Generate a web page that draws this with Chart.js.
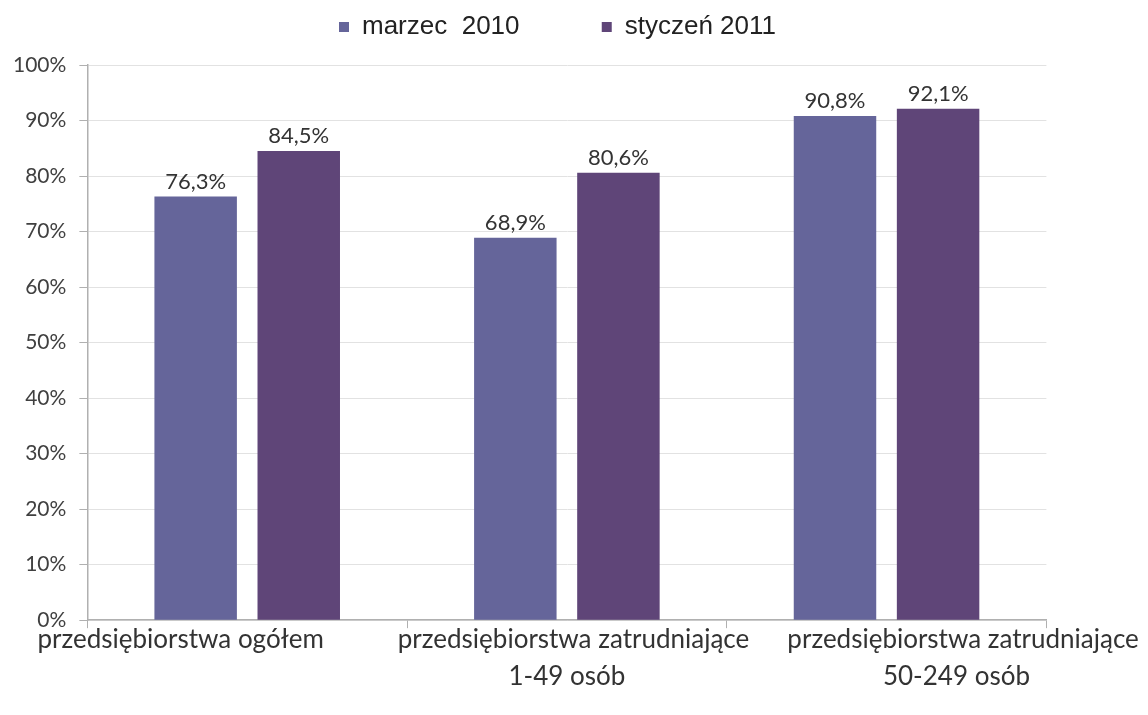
<!DOCTYPE html>
<html>
<head>
<meta charset="utf-8">
<script src="https://cdn.jsdelivr.net/npm/chart.js@4"></script>
<style>
  html, body { margin: 0; padding: 0; background: #fff; }
  #wrap { width: 1148px; height: 715px; }
</style>
</head>
<body>
<div id="wrap"><canvas id="chart"></canvas></div>
<script>
// --- Data ---
const categories = [
  ['przedsiębiorstwa ogółem'],
  ['przedsiębiorstwa zatrudniające', '1-49 osób'],
  ['przedsiębiorstwa zatrudniające', '50-249 osób']
];
const seriesNames = ['marzec  2010', 'styczeń 2011'];
const march2010 = [76.3, 68.9, 90.8];
const january2011 = [84.5, 80.6, 92.1];
const yTicks = [0, 10, 20, 30, 40, 50, 60, 70, 80, 90, 100];

const labelFont = 'Lato, "Open Sans", sans-serif';
const NB = '\u00a0';
// category labels in the original sit off-centre; nudge them with padding spaces
// [leading, trailing] per line
const labelNudge = [
  [[0, 20]],
  [[2, 0], [0, 0]],
  [[23, 0], [21, 0]]
];

// --- Value labels above bars ---
const valueLabels = {
  id: 'valueLabels',
  afterDatasetsDraw(chart) {
    const ctx = chart.ctx;
    ctx.save();
    ctx.font = '22px ' + labelFont;
    ctx.fillStyle = '#333';
    ctx.textAlign = 'center';
    ctx.textBaseline = 'bottom';
    chart.data.datasets.forEach((ds, i) => {
      chart.getDatasetMeta(i).data.forEach((bar, j) => {
        const txt = ds.data[j].toFixed(1).replace('.', ',') + '%';
        ctx.fillText(txt, bar.x, bar.y - 4);
      });
    });
    ctx.restore();
  }
};

// --- Legend spacing: taller box, shifted a little right ---
const legendTweak = {
  id: 'legendTweak',
  beforeInit(chart) {
    const fit = chart.legend.fit;
    chart.legend.fit = function () {
      fit.bind(chart.legend)();
      this.height = 61;
    };
  },
  afterLayout(chart) {
    chart.legend.left += 32;
    chart.legend.right += 32;
  }
};

const ctx = document.getElementById('chart').getContext('2d');
new Chart(ctx, {
  type: 'bar',
  data: {
    labels: categories,
    datasets: [{
      label: seriesNames[0],
      data: march2010,
      backgroundColor: '#65659a',
      categoryPercentage: 0.645,
      barPercentage: 0.8
    }, {
      label: seriesNames[1],
      data: january2011,
      backgroundColor: '#5f4578',
      categoryPercentage: 0.645,
      barPercentage: 0.8
    }]
  },
  options: {
    responsive: true,
    maintainAspectRatio: false,
    animation: false,
    layout: { padding: { top: 4, right: 97, left: 0, bottom: 27 } },
    plugins: {
      legend: {
        position: 'top',
        labels: {
          boxWidth: 10,
          boxHeight: 10,
          padding: 10,
          color: '#222',
          font: { family: '"Liberation Sans", Arial, sans-serif', size: 26 },
          generateLabels(chart) {
            const items = Chart.defaults.plugins.legend.labels.generateLabels(chart);
            items.forEach((it, i) => {
              if (i < items.length - 1) it.text += NB.repeat(10);
            });
            return items;
          }
        }
      },
      tooltip: { enabled: false }
    },
    scales: {
      y: {
        min: 0,
        max: 100,
        afterBuildTicks(axis) {
          axis.ticks = yTicks.map(v => ({ value: v }));
        },
        ticks: {
          callback: v => v + '%',
          color: '#404040',
          padding: 13,
          font: { family: labelFont, size: 21 }
        },
        grid: { color: '#e2e2e2', tickColor: '#b0b0b0', tickLength: 8 },
        border: { color: '#b0b0b0', width: 1.5 }
      },
      x: {
        ticks: {
          color: '#333',
          padding: -7,
          maxRotation: 0,
          autoSkip: false,
          font: { family: labelFont, size: 26, lineHeight: 1.42 },
          callback(value, index) {
            return categories[index].map((line, k) => {
              const [lead, trail] = labelNudge[index][k];
              return NB.repeat(lead) + line + NB.repeat(trail);
            });
          }
        },
        grid: { offset: true, drawOnChartArea: false, tickColor: '#b0b0b0', tickLength: 8 },
        border: { color: '#b0b0b0', width: 1.5 }
      }
    }
  },
  plugins: [valueLabels, legendTweak]
});
</script>
</body>
</html>
